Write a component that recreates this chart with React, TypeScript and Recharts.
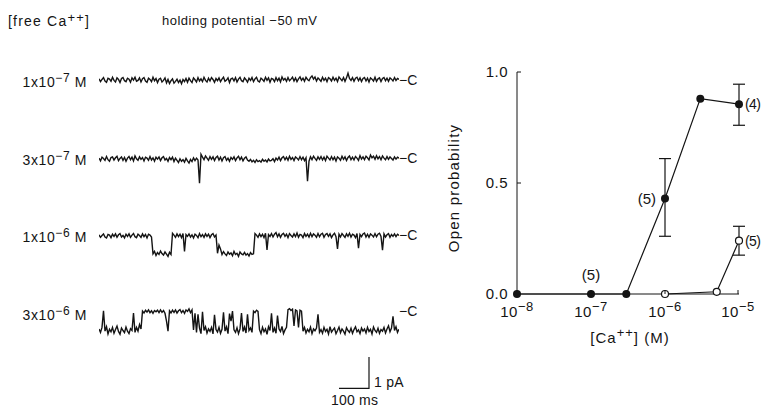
import React from 'react';
import {
  LineChart,
  ComposedChart,
  Line,
  XAxis,
  YAxis,
  ErrorBar,
  ReferenceDot,
} from 'recharts';

// single-channel current traces, pA, 201 samples over 1000 ms (5 ms apart)
const TRACE_1E7 = [
  0.03, -0.06, 0.01, 0.07, -0.04, -0.08, 0.05, 0.02, -0.05, 0.08,
  -0.02, -0.07, 0.06, 0.01, -0.09, 0.04, 0.07, -0.03, -0.06, 0.05,
  0.02, -0.08, 0.06, -0.01, 0.08, -0.05, -0.02, 0.06, -0.07, 0.03,
  0.07, -0.04, -0.08, 0.05, 0.01, -0.06, 0.08, -0.03, 0.04, -0.09,
  0.02, 0.05, -0.07, -0.02, 0.06, -0.1, 0.01, -0.12, -0.03, 0.03,
  -0.11, -0.05, 0.02, -0.09, -0.01, -0.13, 0.01, -0.06, 0.04, -0.08,
  0.05, -0.03, -0.09, 0.06, 0.0, -0.07, 0.07, -0.04, 0.03, -0.06,
  0.08, -0.02, -0.07, 0.05, -0.04, 0.07, 0.01, -0.08, 0.04, -0.03,
  0.06, -0.06, 0.02, 0.08, -0.05, -0.01, 0.06, -0.09, 0.03, 0.05,
  -0.04, 0.07, -0.07, 0.02, 0.08, -0.03, -0.06, 0.06, 0.0, -0.08,
  0.05, -0.02, 0.07, -0.06, 0.03, 0.08, -0.04, -0.07, 0.05, 0.01,
  -0.05, 0.08, -0.02, 0.06, -0.08, 0.04, 0.02, -0.06, 0.07, -0.03,
  0.05, -0.07, 0.09, -0.01, 0.04, -0.05, 0.07, -0.03, 0.02, 0.08,
  -0.04, 0.06, -0.06, 0.03, 0.09, -0.02, 0.05, -0.05, 0.08, 0.01,
  -0.03, 0.07, 0.12, 0.02, 0.09, -0.04, 0.06, 0.01, -0.05, 0.08,
  -0.02, 0.05, -0.06, 0.07, 0.03, -0.04, 0.08, -0.02, 0.05, -0.06,
  0.09, 0.03, -0.03, 0.07, -0.05, 0.06, 0.21, 0.04, -0.02, 0.07,
  -0.05, 0.05, 0.08, -0.03, 0.06, -0.06, 0.04, 0.07, -0.04, 0.05,
  -0.07, 0.06, 0.02, -0.04, 0.08, -0.05, 0.03, 0.06, -0.06, 0.04,
  0.07, -0.03, 0.05, -0.05, 0.06, 0.02, -0.04, 0.07, -0.02, 0.04,
  0.01,
];

const TRACE_3E7 = [
  0.02, -0.07, 0.05, 0.01, -0.05, 0.07, -0.03, -0.08, 0.04, 0.06,
  -0.04, 0.03, 0.08, -0.06, 0.01, 0.06, -0.05, 0.04, -0.08, 0.02,
  0.07, -0.03, 0.05, -0.07, 0.09, 0.0, -0.05, 0.06, -0.02, 0.04,
  -0.07, 0.05, 0.02, -0.05, 0.07, -0.04, 0.03, -0.08, 0.05, -0.01,
  0.06, -0.06, 0.03, 0.07, -0.04, 0.01, -0.08, 0.04, -0.03, 0.05,
  -0.09, 0.02, -0.05, -0.12, 0.0, -0.08, -0.03, -0.11, 0.01, -0.07,
  -0.14, -0.02, -0.09, 0.03, -0.06, 0.02, -0.04, -0.78, 0.14, 0.05,
  -0.03, 0.09, 0.02, -0.05, 0.07, -0.02, 0.06, -0.06, 0.04, 0.08,
  -0.04, 0.05, -0.07, 0.03, 0.07, -0.05, 0.02, -0.08, 0.04, -0.02,
  0.06, -0.06, 0.03, 0.08, -0.03, 0.05, -0.07, 0.02, 0.06, -0.04,
  -0.08, -0.02, -0.1, -0.05, -0.12, -0.03, -0.09, -0.06, -0.11, -0.02,
  -0.08, -0.04, -0.1, -0.01, -0.07, -0.05, 0.0, -0.09, 0.02, -0.04,
  0.05, -0.06, 0.03, 0.07, -0.03, 0.05, -0.05, 0.08, -0.02, 0.04,
  -0.06, 0.06, 0.02, -0.04, 0.07, -0.03, 0.05, -0.06, 0.03, -0.72,
  -0.08, 0.06, -0.03, 0.08, 0.01, -0.05, 0.06, -0.02, 0.07, -0.04,
  0.05, -0.06, 0.08, 0.02, -0.04, 0.07, -0.03, 0.05, -0.07, 0.06,
  0.02, -0.05, 0.08, -0.02, 0.06, -0.06, 0.04, 0.09, -0.03, 0.05,
  -0.04, 0.07, 0.02, -0.05, 0.1, -0.01, 0.06, -0.03, 0.08, 0.03,
  -0.04, 0.12, 0.03, 0.08, -0.02, 0.1, 0.0, 0.07, -0.03, 0.09,
  0.02, -0.03, 0.07, -0.02, 0.06, 0.01, -0.04, 0.06, -0.01, 0.05,
  0.02,
];

const TRACE_1E6 = [
  0.03, -0.05, 0.01, 0.06, -0.04, -0.07, 0.04, 0.02, -0.06, 0.05,
  -0.02, 0.06, -0.05, 0.03, 0.07, -0.04, 0.01, -0.07, 0.05, -0.02,
  0.06, -0.05, 0.02, 0.07, -0.03, -0.06, 0.05, 0.01, -0.05, 0.06,
  -0.03, 0.04, -0.07, 0.05, 0.02, -0.04, -0.58, -0.5, -0.63, -0.54,
  -0.6, -0.49, -0.57, -0.62, -0.52, -0.59, -0.66, -0.53, -0.6, 0.08,
  0.02, -0.05, 0.06, -0.03, 0.05, -0.06, 0.07, -0.5, 0.04, -0.02,
  0.06, -0.04, 0.03, -0.07, 0.05, 0.01, -0.06, 0.07, -0.03, 0.04,
  -0.05, 0.06, -0.02, 0.05, -0.06, 0.03, 0.07, -0.04, 0.02, -0.56,
  -0.3, -0.42, -0.6, -0.51, -0.58, -0.63, -0.52, -0.59, -0.55, -0.64,
  -0.5, -0.6, -0.56, -0.66, -0.52, -0.58, -0.61, -0.53, -0.62, -0.57,
  -0.65, -0.54, -0.6, -0.58, 0.07, 0.02, -0.05, 0.06, -0.03, 0.05,
  -0.06, 0.08, -0.45, 0.04, -0.02, 0.07, -0.04, 0.05, 0.1, -0.03,
  0.06, -0.05, 0.04, 0.08, -0.02, 0.05, -0.06, 0.07, 0.01, -0.04,
  0.06, -0.03, 0.09, -0.05, 0.04, 0.02, -0.06, 0.07, -0.02, 0.05,
  -0.04, 0.08, -0.03, 0.06, 0.02, -0.05, 0.07, -0.03, 0.05, 0.08,
  -0.05, 0.04, 0.07, -0.02, 0.06, -0.06, 0.03, 0.08, -0.03, -0.42,
  0.05, -0.04, 0.07, 0.01, -0.05, 0.06, -0.02, 0.08, -0.04, 0.05,
  0.02, -0.06, 0.07, -0.4, 0.04, -0.03, 0.06, 0.09, -0.04, 0.05,
  -0.05, 0.06, 0.02, -0.04, 0.07, -0.03, 0.05, 0.08, -0.02, -0.46,
  0.06, -0.04, 0.03, 0.07, -0.05, 0.04, -0.02, 0.06, -0.03, 0.05,
  0.01,
];

const TRACE_3E6 = [
  -0.55, -0.66, -0.5, 0.03, -0.62, -0.48, -0.71, -0.56, -0.64, -0.5,
  -0.69, -0.57, -0.46, -0.63, -0.72, -0.52, -0.6, -0.67, -0.49, -0.62,
  -0.7, -0.54, -0.6, -0.04, -0.66, -0.5, -0.62, -0.41, -0.55, 0.02,
  -0.04, 0.05, -0.01, 0.06, -0.03, 0.03, -0.05, 0.04, 0.0, 0.05,
  -0.03, 0.06, -0.02, 0.04, -0.05, -0.3, -0.62, 0.03, -0.04, 0.05,
  -0.02, 0.06, -0.04, 0.03, 0.07, -0.03, 0.04, -0.05, 0.06, 0.01,
  0.09, -0.03, 0.06, -0.58, -0.05, -0.66, -0.08, -0.52, -0.7, 0.0,
  -0.6, -0.48, -0.68, -0.55, -0.63, -0.5, -0.71, -0.1, -0.57, -0.65,
  -0.5, -0.69, -0.56, -0.02, -0.62, -0.48, -0.7, -0.06, -0.3, 0.02,
  -0.58, -0.66, -0.51, -0.7, -0.55, -0.04, -0.63, -0.49, -0.68, -0.08,
  -0.6, -0.52, -0.66, 0.02, -0.03, 0.05, 0.01, -0.57, -0.7, -0.5,
  -0.64, -0.55, -0.72, -0.48, -0.6, -0.05, -0.66, -0.52, -0.69, -0.12,
  -0.55, -0.63, -0.47, -0.7, -0.58, -0.5, 0.07, 0.1, 0.04, 0.08,
  -0.45, 0.06, 0.03, -0.5, 0.05, 0.02, -0.62, -0.5, -0.68, -0.56,
  -0.64, -0.49, -0.7, -0.55, -0.61, -0.52, -0.08, -0.66, -0.57, -0.69,
  -0.5, -0.63, -0.56, -0.71, -0.48, -0.65, -0.58, -0.52, -0.7, -0.6,
  -0.49, -0.67, -0.55, -0.62, -0.72, -0.51, -0.6, -0.66, -0.53, -0.69,
  -0.57, -0.48, -0.64, -0.58, -0.7, -0.52, -0.62, -0.55, -0.68, -0.5,
  -0.63, -0.56, -0.71, -0.49, -0.6, -0.66, -0.53, -0.69, -0.57, -0.62,
  -0.5, -0.68, -0.55, -0.45, -0.64, -0.52, -0.15, -0.6, -0.48, -0.66,
  -0.56,
];

// 100 ms / 1 pA calibration bar (t in ms, v in pA)
const SCALE_BAR = [
  { t: 800, v: -2.45 },
  { t: 900, v: -2.45 },
  { t: 900, v: -1.45 },
];

// open probability vs [Ca++]
const FILLED_CONC = [1e-8, 1e-7, 3e-7, 1e-6, 3e-6, 1e-5];
const FILLED_PO = [0, 0, 0, 0.43, 0.88, 0.855];
const FILLED_ERR: ([number, number] | null)[] = [null, null, null, [0.17, 0.18], null, [0.095, 0.09]];

const OPEN_CONC = [1e-6, 5e-6, 1e-5];
const OPEN_PO = [0, 0.01, 0.24];
const OPEN_ERR: ([number, number] | null)[] = [null, null, [0.065, 0.065]];

const X_TICKS = [1e-8, 1e-7, 1e-6, 1e-5];
const Y_TICKS = [0, 0.5, 1.0];

const N_LABELS = [
  { conc: 1e-7, po: 0, text: '(5)', pos: 'top' },
  { conc: 1e-6, po: 0.43, text: '(5)', pos: 'left' },
  { conc: 1e-5, po: 0.855, text: '(4)', pos: 'right' },
  { conc: 1e-5, po: 0.24, text: '(5)', pos: 'right' },
];

const FONT = '"Liberation Sans", Arial, Helvetica, sans-serif';
const INK = '#141414';

const filledData = FILLED_CONC.map((c, i) => ({ c, po: FILLED_PO[i], err: FILLED_ERR[i] }));
const openData = OPEN_CONC.map((c, i) => ({ c, po: OPEN_PO[i], err: OPEN_ERR[i] }));

const Trace = ({ values, top, height, domain, extra }: any) => {
  const data = values.map((v: number, i: number) => ({ t: (i * 1000) / (values.length - 1), v }));
  return (
    <div style={{ position: 'absolute', left: 99, top }}>
      <LineChart width={300} height={height} data={data} margin={{ top: 0, right: 0, bottom: 0, left: 0 }}>
        <XAxis type="number" dataKey="t" domain={[0, 1000]} hide allowDataOverflow />
        <YAxis type="number" domain={domain} hide allowDataOverflow />
        <Line type="linear" dataKey="v" stroke={INK} strokeWidth={1.4} dot={false} isAnimationActive={false} />
        {extra}
      </LineChart>
    </div>
  );
};

const ConcLabel = ({ mant, exp, y }: { mant: string; exp: string; y: number }) => (
  <div style={{ position: 'absolute', left: 0, width: 87, top: y - 8, textAlign: 'right', fontSize: 14, lineHeight: '16px', letterSpacing: 0.6 }}>
    {mant}x10<sup style={{ fontSize: 12, verticalAlign: 5, lineHeight: 0 }}>−{exp}</sup> M
  </div>
);

const ClosedMark = ({ y }: { y: number }) => (
  <div style={{ position: 'absolute', left: 399, top: y - 8, fontSize: 14, lineHeight: '16px' }}>−C</div>
);

const XTick = (p: any) => {
  const exp = Math.round(Math.log10(p.payload.value));
  return (
    <g>
      <line x1={p.x} x2={p.x} y1={p.y - 8} y2={p.y - 12} stroke={INK} />
      <text x={p.x} y={p.y + 15} textAnchor="middle" fontSize={15} fill={INK} fontFamily={FONT} letterSpacing={0.5}>
        10<tspan dy={-6} fontSize={13}>−{Math.abs(exp)}</tspan>
      </text>
    </g>
  );
};

const YTick = (p: any) => (
  <g>
    {p.payload.value > 0 && <line x1={p.x + 9} x2={p.x + 13} y1={p.y} y2={p.y} stroke={INK} />}
    <text x={p.x} y={p.y + 5} textAnchor="end" fontSize={15} fill={INK} fontFamily={FONT} letterSpacing={0.5}>
      {p.payload.value.toFixed(1)}
    </text>
  </g>
);

const FilledDot = (p: any) => <circle cx={p.cx} cy={p.cy} r={4} fill={INK} />;
const OpenDot = (p: any) => <circle cx={p.cx} cy={p.cy} r={3.5} fill="#fff" stroke={INK} strokeWidth={1.2} />;

export default function App() {
  return (
    <div style={{ position: 'absolute', left: 0, top: 0, width: 764, height: 407, background: '#fff', fontFamily: FONT, color: INK, overflow: 'hidden' }}>
      <div style={{ position: 'absolute', left: 8, top: 13, fontSize: 14, letterSpacing: 1.2 }}>
        [free Ca<sup style={{ fontSize: 13, verticalAlign: 4, lineHeight: 0 }}>++</sup>]
      </div>
      <div style={{ position: 'absolute', left: 162, top: 13, fontSize: 13, letterSpacing: 0.5 }}>
        holding potential −50 mV
      </div>

      <ConcLabel mant="1" exp="7" y={82} />
      <ConcLabel mant="3" exp="7" y={160} />
      <ConcLabel mant="1" exp="6" y={237} />
      <ConcLabel mant="3" exp="6" y={315} />

      <Trace values={TRACE_1E7} top={80 - 18.75} height={50} domain={[-1, 0.6]} />
      <Trace values={TRACE_3E7} top={159 - 18.75} height={50} domain={[-1, 0.6]} />
      <Trace values={TRACE_1E6} top={236 - 18.75} height={50} domain={[-1, 0.6]} />
      <Trace
        values={TRACE_3E6}
        top={312 - 18.75}
        height={100}
        domain={[-2.6, 0.6]}
        extra={
          <Line data={SCALE_BAR} type="linear" dataKey="v" stroke={INK} strokeWidth={1.2} dot={false} isAnimationActive={false} />
        }
      />

      <ClosedMark y={80} />
      <ClosedMark y={158} />
      <ClosedMark y={235} />
      <ClosedMark y={311} />

      <div style={{ position: 'absolute', left: 374, top: 374, fontSize: 14, lineHeight: '16px', letterSpacing: 0.3 }}>1 pA</div>
      <div style={{ position: 'absolute', left: 331, top: 392, fontSize: 14, lineHeight: '16px', letterSpacing: 0.2 }}>100 ms</div>

      <div style={{ position: 'absolute', left: 440, top: 50 }}>
        <ComposedChart width={324} height={310} margin={{ top: 22, right: 25, bottom: 36, left: 0 }}>
          <XAxis
            type="number"
            dataKey="c"
            scale="log"
            domain={[1e-8, 1e-5]}
            ticks={X_TICKS}
            height={30}
            stroke={INK}
            tickSize={0}
            tickMargin={8}
            tick={<XTick />}
            label={{
              content: () => (
                <text x={190} y={293} textAnchor="middle" fontSize={15} fill={INK} fontFamily={FONT} letterSpacing={1}>
                  [Ca<tspan dy={-6} fontSize={13}>++</tspan>
                  <tspan dy={6}>] (M)</tspan>
                </text>
              ),
            }}
          />
          <YAxis
            type="number"
            domain={[0, 1]}
            ticks={Y_TICKS}
            width={77}
            stroke={INK}
            tickSize={0}
            tickMargin={9}
            tick={<YTick />}
            label={{
              content: () => (
                <text
                  x={19}
                  y={138}
                  transform="rotate(-90 19 138)"
                  textAnchor="middle"
                  fontSize={15}
                  fill={INK}
                  fontFamily={FONT}
                  letterSpacing={1.2}
                >
                  Open probability
                </text>
              ),
            }}
          />
          <Line data={filledData} type="linear" dataKey="po" stroke={INK} strokeWidth={1.2} dot={<FilledDot />} isAnimationActive={false}>
            <ErrorBar dataKey="err" width={6} stroke={INK} strokeWidth={1.2} direction="y" />
          </Line>
          <Line data={openData} type="linear" dataKey="po" stroke={INK} strokeWidth={1.2} dot={<OpenDot />} isAnimationActive={false}>
            <ErrorBar dataKey="err" width={6} stroke={INK} strokeWidth={1.2} direction="y" />
          </Line>
          {N_LABELS.map((n, i) => (
            <ReferenceDot
              key={i}
              x={n.conc}
              y={n.po}
              r={0}
              stroke="none"
              ifOverflow="visible"
              label={{
                value: n.text,
                position: n.pos as any,
                offset: n.pos === 'top' ? 14 : n.pos === 'right' ? 6 : 9,
                fontSize: n.pos === 'right' ? 14 : 15,
                letterSpacing: n.pos === 'right' ? -0.6 : 0,
                fill: INK,
                fontFamily: FONT,
              }}
            />
          ))}
        </ComposedChart>
      </div>
    </div>
  );
}
